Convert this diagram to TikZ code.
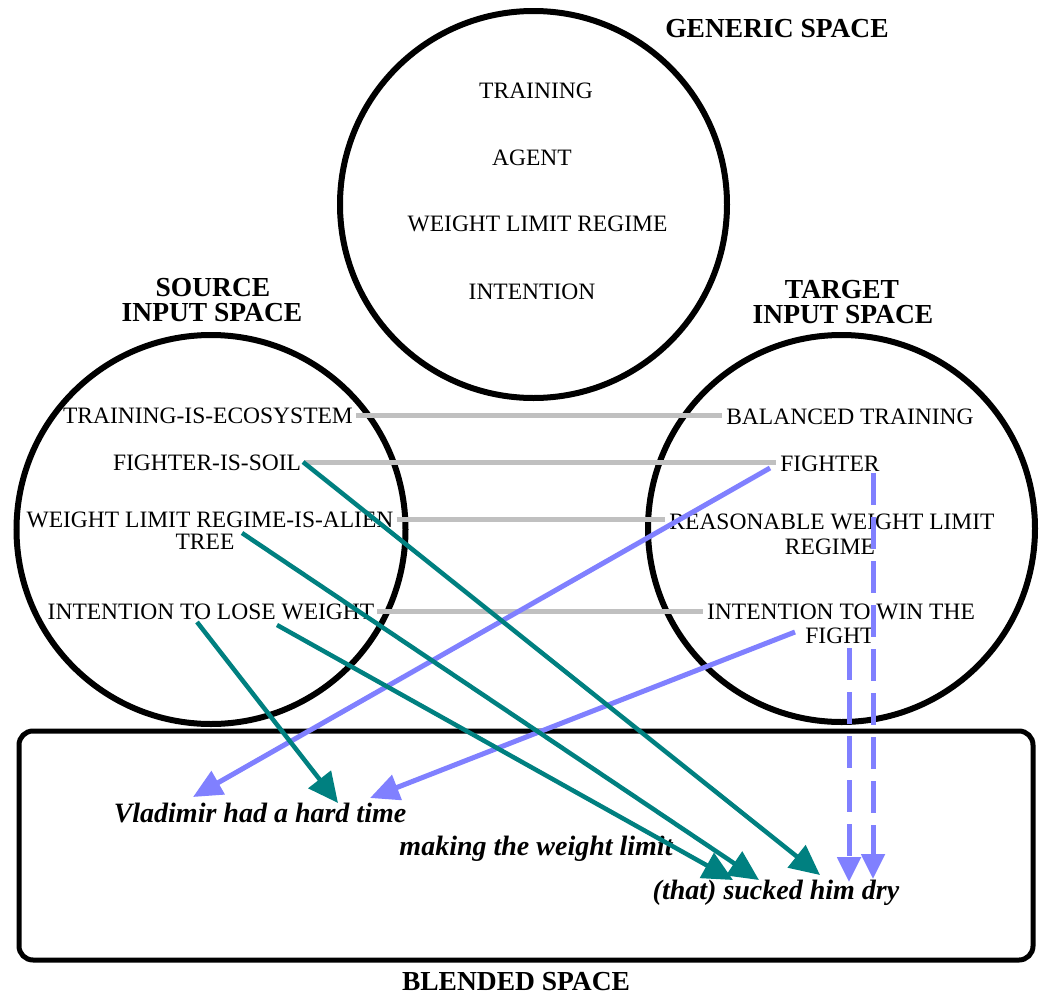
\documentclass[tikz,border=0pt]{standalone}
\usepackage{fontspec}
\setmainfont{Liberation Serif}
\usetikzlibrary{arrows.meta}
\definecolor{tealc}{HTML}{008080}
\definecolor{lblue}{HTML}{8080FF}
\definecolor{lgray}{HTML}{C0C0C0}
\begin{document}
\begin{tikzpicture}[x=1pt,y=-1pt,
  lbl/.style={font=\fontsize{23.5}{25}\selectfont, inner sep=0pt, anchor=base},
  head/.style={font=\bfseries\fontsize{27.5}{29}\selectfont, inner sep=0pt, anchor=base},
  blend/.style={font=\bfseries\itshape\fontsize{28}{30}\selectfont, inner sep=0pt, anchor=base},
  spacecirc/.style={circle, draw, line width=6pt, minimum size=#1, inner sep=0pt},
  link/.style={draw=lgray, line width=5pt, shorten <=3pt, shorten >=4pt},
  tarrow/.style={draw=tealc, line width=4.5pt, -{Triangle[length=30pt,width=28pt]}},
  barrow/.style={draw=lblue, line width=5pt, -{Triangle[length=29pt,width=26pt]}},
  bdash/.style={draw=lblue, line width=5pt, dash pattern=on 32pt off 12pt, -{Triangle[length=25pt,width=23pt]}},
]
\useasboundingbox[fill=white] (0,0) rectangle (1039,996);

% spaces
\node[spacecirc=387pt] (gen) at (533.5,204.5) {};
\node[spacecirc=389pt] (src) at (211,529.5) {};
\node[spacecirc=387pt] (tgt) at (841.5,528.5) {};
\node[draw, rounded corners=14pt, line width=5pt, minimum width=1014pt, minimum height=229pt, inner sep=0pt] (bl) at (526,845.5) {};

% headings
\node[head] (hgen) at (777,37) {GENERIC SPACE};
\node[head] (hsrc1) at (213,296) {SOURCE};
\node[head] (hsrc2) at (212,321) {INPUT SPACE};
\node[head] (htgt1) at (842,298) {TARGET};
\node[head] (htgt2) at (843,323) {INPUT SPACE};
\node[head] (hbl) at (516,990) {BLENDED SPACE};

% generic space
\node[lbl] (gTrain) at (536,98) {TRAINING};
\node[lbl] (gAgent) at (532,165) {AGENT};
\node[lbl] (gWeight) at (537.5,231) {WEIGHT LIMIT REGIME};
\node[lbl] (gIntent) at (532,299) {INTENTION};

% source space
\node[lbl] (sEco) at (208,423) {TRAINING-IS-ECOSYSTEM};
\node[lbl] (sSoil) at (207,470) {FIGHTER-IS-SOIL};
\node[lbl] (sAlien) at (210,527) {WEIGHT LIMIT REGIME-IS-ALIEN};
\node[lbl] (sTree) at (205,549) {TREE};
\node[lbl] (sLose) at (211,619) {INTENTION TO LOSE WEIGHT};

% target space
\node[lbl] (tBal) at (850,424) {BALANCED TRAINING};
\node[lbl] (tFighter) at (830,471) {FIGHTER};
\node[lbl] (tReason) at (832,529) {REASONABLE WEIGHT LIMIT};
\node[lbl] (tRegime) at (830,554) {REGIME};
\node[lbl] (tWin) at (841,619) {INTENTION TO WIN THE};
\node[lbl] (tFight) at (840,643) {FIGHT};

% blended space
\node[blend] (bVlad) at (260,822) {Vladimir had a hard time};
\node[blend] (bMake) at (536,855) {making the weight limit};
\node[blend] (bSuck) at (776,899) {(that) sucked him dry};

% cross-space mappings
\draw[link] (sEco.east) -- (sEco.east -| tBal.west);
\draw[link] (sSoil.east) -- (sSoil.east -| tFighter.west);
\draw[link] (sAlien.east) -- (sAlien.east -| tReason.west);
\draw[link] (sLose.east) -- (sLose.east -| tWin.west);

% projection points
\coordinate (b1s) at (770,468);
\coordinate (b1e) at (193,797);
\coordinate (b2s) at (795,632);
\coordinate (b2e) at (370,798);
\coordinate (d1s) at (873,473);
\coordinate (d1e) at (873,879);
\coordinate (d2s) at (849,648);
\coordinate (d2e) at (849,882);
\coordinate (t1s) at (197,622);
\coordinate (t1e) at (338,803);
\coordinate (t2s) at (277,625);
\coordinate (t2e) at (733,880);
\coordinate (t3s) at (242,533);
\coordinate (t3e) at (759,880);
\coordinate (t4s) at (303,462);
\coordinate (t4e) at (820,875);

% target projections
\draw[barrow] (b1s) -- (b1e);
\draw[barrow] (b2s) -- (b2e);
\draw[bdash] (d1s) -- (d1e);
\draw[bdash] (d2s) -- (d2e);

% source projections
\draw[tarrow] (t1s) -- (t1e);
\draw[tarrow] (t2s) -- (t2e);
\draw[tarrow] (t3s) -- (t3e);
\draw[tarrow] (t4s) -- (t4e);
\end{tikzpicture}
\end{document}
